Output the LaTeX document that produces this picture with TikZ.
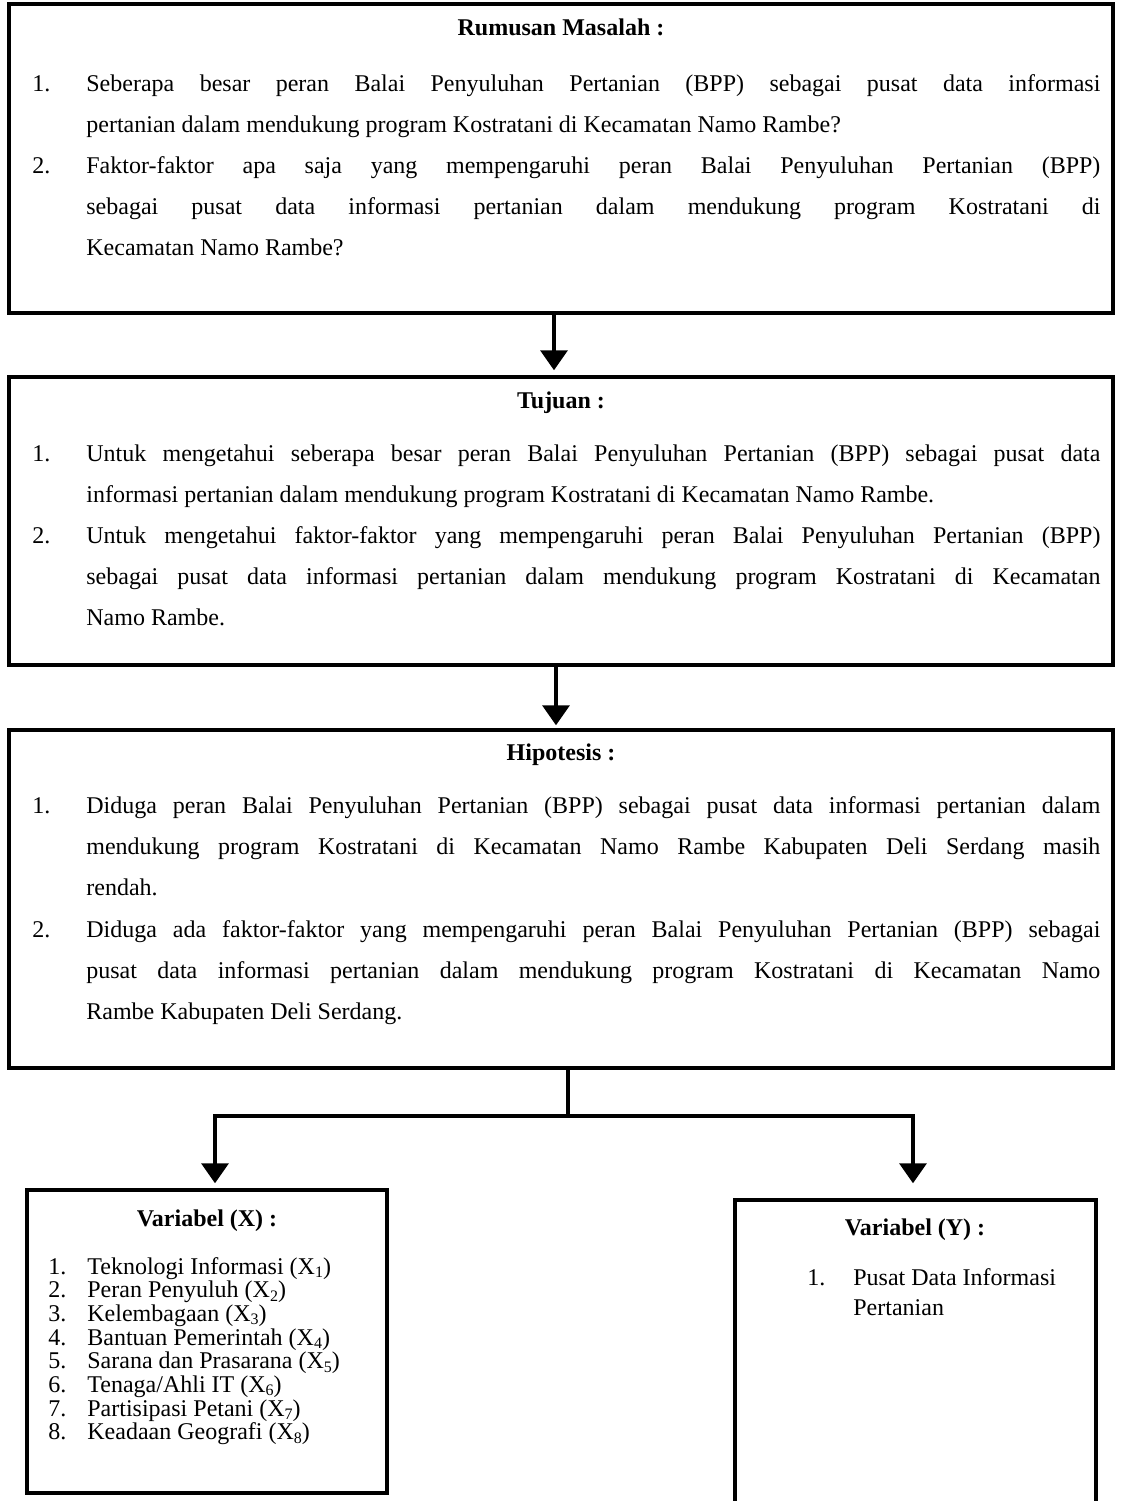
\documentclass[tikz,border=0pt]{standalone}
\usepackage{fontspec}
\setmainfont{Liberation Serif}
\usetikzlibrary{arrows.meta}
\hyphenpenalty=10000
\newcommand{\xsub}[1]{\raisebox{-0.3ex}{\fontsize{8pt}{8pt}\selectfont #1}}
\begin{document}
\begin{tikzpicture}[x=0.5pt,y=-0.5pt,
    box/.style={draw, line width=1.75pt, inner sep=0pt},
    arr/.style={-{Triangle[width=13.5pt,length=10pt]}, line width=1.75pt},
    ttl/.style={anchor=base, inner sep=0pt, font=\fontsize{12pt}{20.5pt}\selectfont\bfseries},
    num/.style={anchor=base west, inner sep=0pt, font=\fontsize{12pt}{20.5pt}\selectfont},
    txt/.style={anchor=base west, inner sep=0pt, font=\fontsize{12pt}{20.5pt}\selectfont}]
\useasboundingbox (0,0) rectangle (1121,1501);
% Rumusan masalah
\node[box, minimum width=552pt, minimum height=154.5pt] (rm) at (561,158.5) {};
\node[ttl] (rmt) at (561,35) {Rumusan Masalah :};
\node[num] (rmn1) at (32,91) {1.};
\node[txt] (rm1) at (86,91) {\parbox[t]{507pt}{Seberapa besar peran Balai Penyuluhan Pertanian (BPP) sebagai pusat data informasi \linebreak pertanian dalam mendukung program Kostratani di Kecamatan Namo Rambe?}};
\node[num] (rmn2) at (32,173) {2.};
\node[txt] (rm2) at (86,173) {\parbox[t]{507pt}{Faktor-faktor apa saja yang mempengaruhi peran Balai Penyuluhan Pertanian (BPP) \linebreak sebagai pusat data informasi pertanian dalam mendukung program Kostratani di \linebreak Kecamatan Namo Rambe?}};
% Tujuan
\node[box, minimum width=552pt, minimum height=144pt] (tj) at (561,521) {};
\node[ttl] (tjt) at (561,408) {Tujuan :};
\node[num] (tjn1) at (32,461) {1.};
\node[txt] (tj1) at (86,461) {\parbox[t]{507pt}{Untuk mengetahui seberapa besar peran Balai Penyuluhan Pertanian (BPP) sebagai pusat data \linebreak informasi pertanian dalam mendukung program Kostratani di Kecamatan Namo Rambe.}};
\node[num] (tjn2) at (32,543) {2.};
\node[txt] (tj2) at (86,543) {\parbox[t]{507pt}{Untuk mengetahui faktor-faktor yang mempengaruhi peran Balai Penyuluhan Pertanian (BPP) \linebreak sebagai pusat data informasi pertanian dalam mendukung program Kostratani di Kecamatan \linebreak Namo Rambe.}};
% Hipotesis
\node[box, minimum width=552pt, minimum height=169pt] (hp) at (561,899) {};
\node[ttl] (hpt) at (561,760) {Hipotesis :};
\node[num] (hpn1) at (32,813) {1.};
\node[txt] (hp1) at (86,813) {\parbox[t]{507pt}{Diduga peran Balai Penyuluhan Pertanian (BPP) sebagai pusat data informasi pertanian dalam \linebreak mendukung program Kostratani di Kecamatan Namo Rambe Kabupaten Deli Serdang masih \linebreak rendah.}};
\node[num] (hpn2) at (32,937) {2.};
\node[txt] (hp2) at (86,937) {\parbox[t]{507pt}{Diduga ada faktor-faktor yang mempengaruhi peran Balai Penyuluhan Pertanian (BPP) sebagai \linebreak pusat data informasi pertanian dalam mendukung program Kostratani di Kecamatan Namo \linebreak Rambe Kabupaten Deli Serdang.}};
% Variabel X
\node[box, minimum width=180pt, minimum height=151.5pt] (vx) at (207,1341.5) {};
\node[ttl] (vxt) at (207,1226) {Variabel (X) :};
\node[txt] (vx1) at (48,1274) {\parbox[t]{170pt}{\baselineskip=11.85pt
    \makebox[19.5pt][l]{1.}Teknologi Informasi (X\xsub{1})\\
    \makebox[19.5pt][l]{2.}Peran Penyuluh (X\xsub{2})\\
    \makebox[19.5pt][l]{3.}Kelembagaan (X\xsub{3})\\
    \makebox[19.5pt][l]{4.}Bantuan Pemerintah (X\xsub{4})\\
    \makebox[19.5pt][l]{5.}Sarana dan Prasarana (X\xsub{5})\\
    \makebox[19.5pt][l]{6.}Tenaga/Ahli IT (X\xsub{6})\\
    \makebox[19.5pt][l]{7.}Partisipasi Petani (X\xsub{7})\\
    \makebox[19.5pt][l]{8.}Keadaan Geografi (X\xsub{8})}};
% Variabel Y
\node[box, minimum width=180.5pt, minimum height=165pt] (vy) at (915.5,1365) {};
\node[ttl] (vyt) at (915,1235) {Variabel (Y) :};
\node[num] (vyn1) at (807,1285) {1.};
\node[txt] (vy1) at (853,1285) {\parbox[t]{110pt}{\baselineskip=15pt Pusat Data Informasi\\Pertanian}};
% Arrows
\coordinate (a1) at (554,0);
\coordinate (a2) at (556,0);
\draw[arr, shorten >=2.5pt] (rm.south -| a1) -- (tj.north -| a1);
\draw[arr, shorten >=1.5pt] (tj.south -| a2) -- (hp.north -| a2);
\coordinate (jc) at (568,1116);
\coordinate (jl) at (215,1116);
\coordinate (jr) at (913,1116);
\draw[line width=1.75pt] (hp.south -| jc) -- (jc);
\draw[arr, shorten >=2.5pt] (jc) -- (jl) -- (jl |- vx.north);
\draw[arr, shorten >=7.5pt] (jc) -- (jr) -- (jr |- vy.north);
\end{tikzpicture}
\end{document}
